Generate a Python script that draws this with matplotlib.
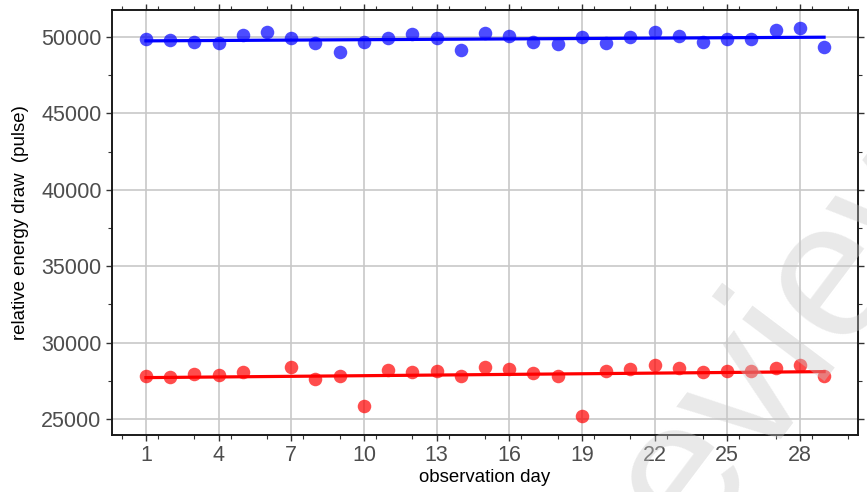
import numpy as np
import matplotlib.pyplot as plt
from matplotlib.ticker import MultipleLocator

# observation days and pulse readings
days_blue = list(range(1, 30))
pulse_blue = [49850, 49800, 49670, 49630, 50130, 50300, 49910, 49590, 49000, 49700,
              49960, 50170, 49960, 49150, 50290, 50065, 49670, 49540, 50020, 49590,
              50000, 50350, 50045, 49700, 49870, 49870, 50460, 50570, 49330]

days_red = [1, 2, 3, 4, 5] + list(range(7, 30))
pulse_red = [27830, 27770, 27920, 27880, 28100, 28380, 27600, 27810, 25830, 28180,
             28100, 28160, 27820, 28370, 28250, 28030, 27830, 25200, 28160, 28250,
             28510, 28360, 28050, 28160, 28140, 28360, 28510, 27810]

xticks = [1, 4, 7, 10, 13, 16, 19, 22, 25, 28]
yticks = [25000, 30000, 35000, 40000, 45000, 50000]

plt.rcParams['font.family'] = ['Liberation Sans', 'DejaVu Sans']

fig = plt.figure(figsize=(8.67, 4.92), dpi=100)
ax = fig.add_axes([0.1292, 0.1159, 0.8604, 0.8638])

for x, y, col in [(days_blue, pulse_blue, 'blue'), (days_red, pulse_red, 'red')]:
    ax.scatter(x, y, s=95, color=col, alpha=0.7, linewidths=0, zorder=3)
    k, b = np.polyfit(x, y, 1)
    xs = np.array([min(x), max(x)])
    ax.plot(xs, k * xs + b, color=col, lw=2.3, zorder=4)

ax.set_xlim(-0.4, 30.4)
ax.set_ylim(23950, 51770)
ax.set_xticks(xticks)
ax.set_yticks(yticks)
ax.xaxis.set_minor_locator(MultipleLocator(1.5))
ax.yaxis.set_minor_locator(MultipleLocator(2500))
ax.grid(True, which='major', color='#C8C8C8', lw=1.2)
ax.set_axisbelow(True)

ax.tick_params(which='both', direction='out', top=True, right=True,
               color='#333333', labelsize=15.5, labelcolor='#4D4D4D', pad=3)
ax.tick_params(which='major', length=4.5, width=1)
ax.tick_params(which='minor', length=3, width=0.8)
for s in ax.spines.values():
    s.set_color('#1a1a1a')
    s.set_linewidth(1.4)

ax.set_xlabel('observation day', fontsize=13.4, labelpad=2)
ax.set_ylabel('relative energy draw  (pulse)', fontsize=13.4, labelpad=9)

# faint watermark in the corner
fig.text(0.852, 0.205, 'Preview', fontsize=140, color='#C8C8C8', rotation=53,
         ha='center', va='center', zorder=5, alpha=0.4)

fig.savefig('out.png', dpi=100)
